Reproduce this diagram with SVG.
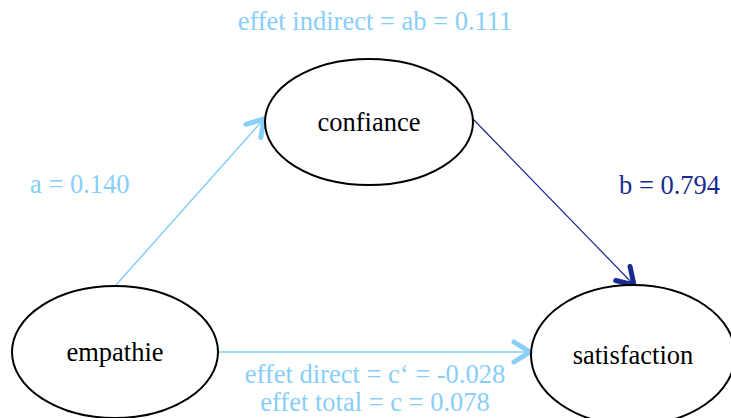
<svg xmlns="http://www.w3.org/2000/svg" width="731" height="418" viewBox="0 0 731 418">
<style>
.node{fill:#fff;stroke:#000;stroke-width:2}
.nl{font-family:"Liberation Serif","Times New Roman",serif;font-size:26.5px;fill:#000;text-anchor:middle}
.lbl{font-family:"Liberation Serif","Times New Roman",serif;font-size:26.5px;fill:#87CEFA}
.dark{fill:#1a2b8f}
</style>
<defs>
<marker id="ml" markerUnits="userSpaceOnUse" markerWidth="32" markerHeight="32" refX="23" refY="12" orient="auto" viewBox="0 0 32 24">
<path d="M7,2 L23,12 L7,22" fill="none" stroke="#87CEFA" stroke-width="5" stroke-linecap="round" stroke-linejoin="round"/>
</marker>
<marker id="md" markerUnits="userSpaceOnUse" markerWidth="32" markerHeight="32" refX="23" refY="12" orient="auto" viewBox="0 0 32 24">
<path d="M7,2 L23,12 L7,22" fill="none" stroke="#1a2b8f" stroke-width="5" stroke-linecap="round" stroke-linejoin="round"/>
</marker>
</defs>
<rect width="731" height="418" fill="#fff"/>
<g id="connectors">
<line x1="116" y1="285" x2="264" y2="119" stroke="#87CEFA" stroke-width="1.5" marker-end="url(#ml)"/>
<line x1="473" y1="119" x2="634" y2="285" stroke="#1a2b8f" stroke-width="1.2" marker-end="url(#md)"/>
<line x1="218" y1="352" x2="530" y2="352" stroke="#87CEFA" stroke-width="1.5" marker-end="url(#ml)"/>
</g>
<g id="confiance">
<ellipse class="node" cx="369" cy="122" rx="104" ry="63"/>
<text class="nl" x="369" y="131">confiance</text>
</g>
<g id="empathie">
<ellipse class="node" cx="115" cy="352" rx="103" ry="66"/>
<text class="nl" x="115" y="361">empathie</text>
</g>
<g id="satisfaction">
<ellipse class="node" cx="633" cy="355" rx="102" ry="70"/>
<text class="nl" x="633" y="364">satisfaction</text>
</g>
<g id="labels">
<text class="lbl" x="375" y="30" text-anchor="middle">effet indirect = ab = 0.111</text>
<text class="lbl" x="30" y="193">a = 0.140</text>
<text class="lbl dark" x="619" y="194">b = 0.794</text>
<text class="lbl" x="375" y="383" text-anchor="middle">effet direct = c‘ = -0.028</text>
<text class="lbl" x="375" y="411" text-anchor="middle">effet total = c = 0.078</text>
</g>
</svg>
